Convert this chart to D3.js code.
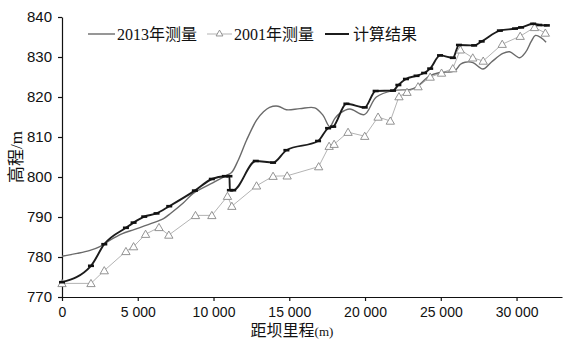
<!DOCTYPE html>
<html><head><meta charset="utf-8">
<script src="https://cdn.jsdelivr.net/npm/d3@7"></script>
<style>
html,body{margin:0;padding:0;background:#fff;}
svg{display:block;font-family:'Liberation Serif','Noto Sans CJK SC',serif;}
</style></head>
<body><svg id="c" width="563" height="339"></svg>
<script>
const xTicks = [0, 5000, 10000, 15000, 20000, 25000, 30000];
const yTicks = [770, 780, 790, 800, 810, 820, 830, 840];
const seriesNames = ["2013年测量", "2001年测量", "计算结果"];

const dist2013 = [0,1000,1800,2500,3200,3950,4800,5900,6700,7200,8000,8660,9980,10860,11190,11630,12180,12840,13300,13700,14260,14810,15700,16680,17230,17670,18000,18330,19000,19950,20750,21850,23000,23400,24260,24920,25900,26300,26600,27120,27780,28330,29100,29540,30200,30600,30970,31250,31630,31950];
const elev2013 = [780.2,780.9,781.6,782.6,784.3,785.8,786.9,788.4,789.6,791.0,793.5,795.9,798.6,800.4,801.1,804.2,809.2,814.2,816.3,817.4,817.7,816.8,817.1,817.3,815.4,812.6,814.6,815.9,817.0,815.6,820.0,821.6,821.9,822.5,825.3,826.1,826.5,828.2,828.7,828.6,827.0,828.7,830.9,831.3,829.8,831.2,833.9,835.4,834.8,833.7];

const dist2001 = [0,1912,2790,4220,4725,5516,6400,7050,8810,9890,10920,11210,12840,13930,14860,16940,17630,17960,18880,19980,20860,21670,22240,22770,23500,24300,25050,25790,26290,27110,27800,29055,30240,31185,31900];
const elev2001 = [773.4,773.4,776.6,781.4,782.6,785.7,787.4,785.5,790.4,790.4,795.2,792.7,797.8,800.2,800.3,802.6,807.7,808.2,811.2,810.2,815.0,814.0,820.1,821.2,822.6,825.0,826.0,827.1,831.8,829.8,829.0,833.2,835.2,837.4,836.0];

const distCalc = [0,1912,2790,4220,4725,5427,6240,7077,8770,9890,10750,11050,11080,11300,12790,13930,14810,16900,17560,17900,18770,19980,20700,21850,22200,22700,23400,23900,24300,24950,25800,26200,27200,27700,28900,29900,30300,31100,31500,32000];
const elevCalc = [773.7,777.8,783.2,787.3,788.6,790.1,790.9,792.7,796.6,799.5,800.2,800.2,796.7,796.7,804.0,803.6,806.7,809.0,812.2,812.6,818.3,817.4,821.5,821.6,823.0,824.5,825.3,826.0,827.1,830.4,829.8,833.0,832.9,833.9,836.6,837.1,837.4,838.3,838.0,837.9];

const svg = d3.select("#c");
const x = d3.scaleLinear().domain([0, 33000]).range([62, 562]);
const y = d3.scaleLinear().domain([770, 840]).range([297, 17]);

const fmt = d => d3.format(",")(d).replace(/,/g, " ");

// axes
const xAxis = svg.append("g").attr("transform", "translate(0,297)")
  .call(d3.axisBottom(x).tickValues(xTicks).tickFormat(fmt).tickSize(4).tickSizeOuter(0));
xAxis.selectAll("text").attr("font-size", 14).attr("fill", "#111").attr("dy", "0.9em");
const yAxis = svg.append("g").attr("transform", "translate(62,0)")
  .call(d3.axisLeft(y).tickValues(yTicks).tickSize(4).tickSizeOuter(0));
yAxis.selectAll("text").attr("font-size", 15).attr("fill", "#111").attr("dx", "-3");
svg.selectAll(".domain, .tick line").attr("stroke", "#111").attr("stroke-width", 1.2);

// lines
const d13 = dist2013.map((d, i) => [d, elev2013[i]]);
const d01 = dist2001.map((d, i) => [d, elev2001[i]]);
const dc = distCalc.map((d, i) => [d, elevCalc[i]]);

svg.append("path").datum(d01)
  .attr("d", d3.line().x(d => x(d[0])).y(d => y(d[1])))
  .attr("fill", "none").attr("stroke", "#aaa").attr("stroke-width", 0.9);

svg.append("path").datum(d13)
  .attr("d", d3.line().x(d => x(d[0])).y(d => y(d[1])).curve(d3.curveCatmullRom.alpha(0.5)))
  .attr("fill", "none").attr("stroke", "#6a6a6a").attr("stroke-width", 1.4);

svg.append("path").datum(dc)
  .attr("d", d3.line().x(d => x(d[0])).y(d => y(d[1])).curve(d3.curveMonotoneX))
  .attr("fill", "none").attr("stroke", "#1c1c1c").attr("stroke-width", 1.9);

const tri = d3.symbol().type(d3.symbolTriangle).size(30);
svg.append("g").selectAll("path").data(d01).join("path")
  .attr("d", tri)
  .attr("transform", d => `translate(${x(d[0])},${y(d[1]) + 0.8})`)
  .attr("fill", "#fff").attr("stroke", "#888").attr("stroke-width", 0.9);

svg.append("g").selectAll("rect").data(dc).join("rect")
  .attr("x", d => x(d[0]) - 3).attr("y", d => y(d[1]) - 1.3)
  .attr("width", 6).attr("height", 2.6).attr("fill", "#111");

// legend
const leg = svg.append("g");
const ly = 34;
const items = [
  {x1: 88, x2: 115, tx: 117, stroke: "#6a6a6a", sw: 1.4, tri: false},
  {x1: 207, x2: 232, tx: 234, stroke: "#aaa", sw: 0.9, tri: true},
  {x1: 325, x2: 349, tx: 353, stroke: "#1c1c1c", sw: 2, tri: false}
];
items.forEach((it, i) => {
  leg.append("line").attr("x1", it.x1).attr("x2", it.x2).attr("y1", ly).attr("y2", ly)
    .attr("stroke", it.stroke).attr("stroke-width", it.sw);
  if (it.tri) {
    leg.append("path").attr("d", d3.symbol().type(d3.symbolTriangle).size(20))
      .attr("transform", `translate(${(it.x1 + it.x2) / 2},${ly})`)
      .attr("fill", "#fff").attr("stroke", "#888").attr("stroke-width", 0.9);
  }
  leg.append("text").attr("x", it.tx).attr("y", ly + 6).attr("font-size", 16).attr("fill", "#111")
    .text(seriesNames[i]);
});

// axis titles
svg.append("text").attr("transform", "translate(22,157) rotate(-90)")
  .attr("text-anchor", "middle").attr("font-size", 17).attr("fill", "#111")
  .text("高程/m");
const xt = svg.append("text").attr("x", 292).attr("y", 336).attr("text-anchor", "middle")
  .attr("font-size", 16).attr("fill", "#111");
xt.append("tspan").text("距坝里程");
xt.append("tspan").attr("font-size", 13).text("(m)");
</script></body></html>
